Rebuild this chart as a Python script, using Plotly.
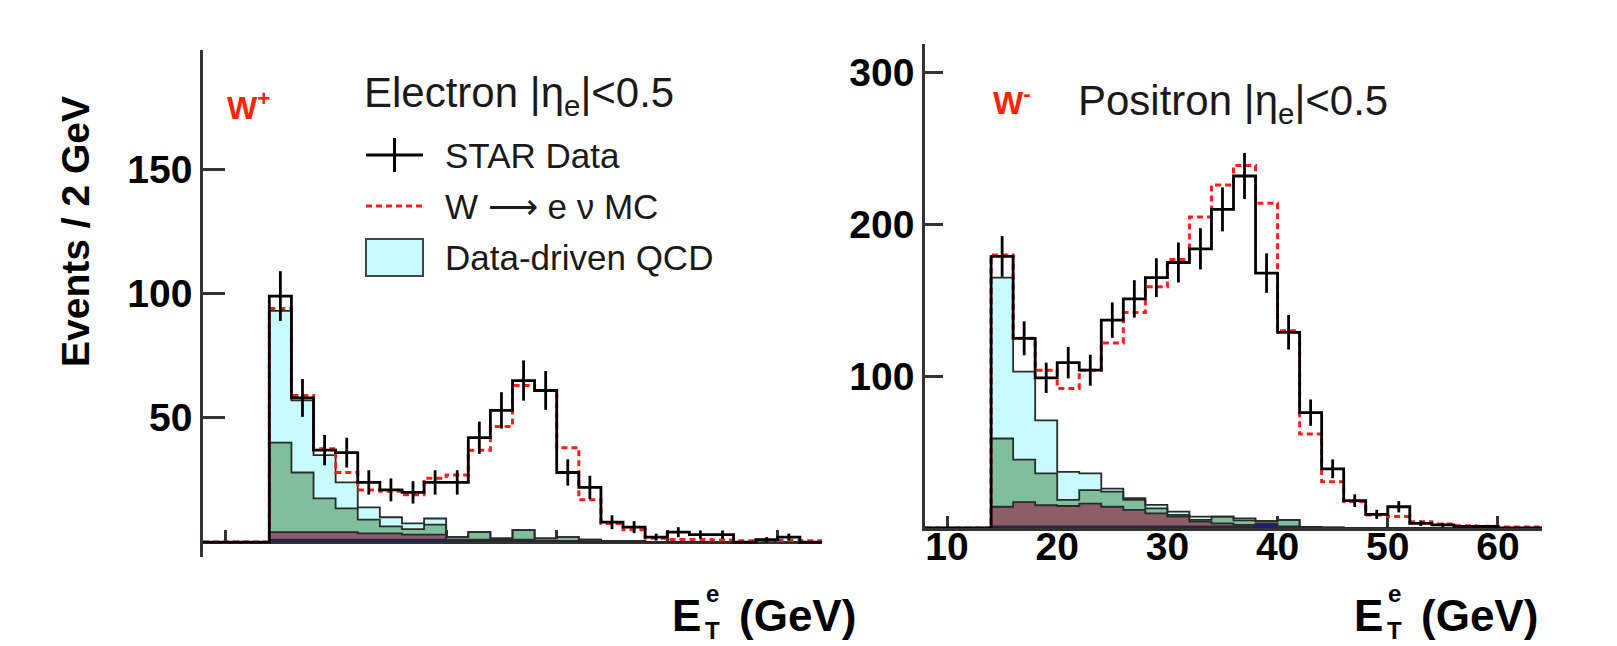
import plotly.graph_objects as go

# ---------------- data (bins of 2 GeV, 8..64 GeV) ----------------
BIN_EDGES = [8, 10, 12, 14, 16, 18, 20, 22, 24, 26, 28, 30, 32, 34, 36, 38,
             40, 42, 44, 46, 48, 50, 52, 54, 56, 58, 60, 62, 64]

# Left panel: W+ (electron)
data_L = [0, 0, 0, 99, 58, 37, 36, 24, 21, 20, 24, 24, 42, 53, 65, 61, 28, 22, 8, 6,
          2, 4, 3, 3, 0, 1, 2, 0]
err_L = [0, 0, 0, 10, 7.6, 6.1, 6, 4.9, 4.6, 4.5, 4.9, 4.9, 6.5, 7.3, 8.1, 7.8, 5.3, 4.7, 2.8, 2.4,
         1.4, 2, 1.7, 1.7, 0, 1, 1.4, 0]
mc_L = [0, 0, 0, 94, 59, 37.6, 28, 21, 20.5, 19, 25.7, 27, 37, 46.5, 63, 61, 38, 17, 7.5, 5,
        1.5, 1, 1, 0.8, 0.5, 0.7, 0.6, 0.5]
navy_L = [0, 0, 0, 1, 1, 1, 1, 1, 1, 1, 1, 0.5, 0.5, 1, 0.5, 0.5, 0.5, 0.3, 0, 0,
          0, 0, 0, 0, 0, 0, 0, 0]
maroon_L = [0, 0, 0, 3, 3, 3, 3, 2.5, 2.5, 2, 2, 0.5, 0.5, 0, 0.5, 0, 0, 0, 0, 0,
            0, 0, 0, 0, 0, 0, 0, 0]
green_L = [0, 0, 0, 36, 24, 13.6, 9.6, 5.5, 2.8, 2.2, 4, 1, 3, 0.5, 3.8, 1, 1.5, 0.7, 0.5, 0.5,
           0, 0, 0, 0, 0, 0, 0, 0]
qcd_L = [0, 0, 0, 53, 29, 17.4, 10.4, 5, 3.7, 2.3, 2.5, 0, 0, 0, 0, 0, 0, 0, 0, 0,
         0, 0, 0, 0, 0, 0, 0, 0]

# Right panel: W- (positron)
data_R = [0, 0, 0, 179, 125, 99, 109, 104, 137, 151, 165, 175, 184, 210, 232, 168, 129, 76, 39, 18,
          9, 14, 3, 2, 1, 1, 0, 0]
err_R = [0, 0, 0, 13.4, 11.2, 10, 10.4, 10.2, 11.7, 12.3, 12.8, 13.2, 13.6, 14.5, 15.2, 13, 11.4, 8.7, 6.2, 4.2,
         3, 3.7, 1.7, 1.4, 1, 1, 0, 0]
mc_R = [0, 0, 0, 180, 125, 104, 92, 104, 122, 142, 159, 177, 205, 226, 239, 214, 130, 62, 30.5, 17.4,
        8.6, 7.5, 4.2, 2.6, 1.5, 1.1, 0.7, 0.7]
navy_R = [0, 0, 0, 1, 1, 1, 1, 1, 1, 1, 1, 1, 1, 1, 1, 3, 1, 0.5, 0.3, 0,
          0, 0, 0, 0, 0, 0, 0, 0]
maroon_R = [0, 0, 0, 13, 16, 14, 13.5, 15, 13, 11, 8.6, 6.5, 3.2, 2, 1, 0, 0, 0, 0, 0,
            0, 0, 0, 0, 0, 0, 0, 0]
green_R = [0, 0, 0, 45, 28, 21, 4, 9, 10, 6.5, 3.4, 1.1, 1.1, 4.5, 3, 1.5, 4.3, 0, 0, 0,
           0, 0, 0, 0, 0, 0, 0, 0]
qcd_R = [0, 0, 0, 106, 58, 35, 18.5, 11, 2, 1.1, 2.2, 2.2, 2.2, 0, 1.4, 0, 0, 0, 0, 0,
         0, 0, 0, 0, 0, 0, 0, 0]

Y_TICKS_L = [50, 100, 150]
Y_TICKS_R = [100, 200, 300]
X_TICKS = [10, 20, 30, 40, 50, 60]

# ---------------- styling ----------------
W, H = 1617, 646
FONT = "Liberation Sans, Arial, Helvetica, sans-serif"
C_QCD = "#c8fcfc"
C_GREEN = "#7fbf9c"
C_MAROON = "#8e5e68"
C_NAVY = "#1c1c82"
C_OUT = "#2a2a2a"
C_RED = "#ff1e1e"


def px(x):
    return x / W


def py(y):
    return 1 - y / H


def step(vals):
    return list(BIN_EDGES), list(vals) + [vals[-1]]


centers = [(BIN_EDGES[i] + BIN_EDGES[i + 1]) / 2 for i in range(len(BIN_EDGES) - 1)]

fig = go.Figure()


def add_panel(xa, ya, grp, navy, maroon, green, qcd, mc, data, err):
    for vals, col in [(navy, C_NAVY), (maroon, C_MAROON), (green, C_GREEN), (qcd, C_QCD)]:
        xs, ys = step(vals)
        fig.add_trace(go.Scatter(x=xs, y=ys, xaxis=xa, yaxis=ya, stackgroup=grp,
                                 mode="lines", line=dict(shape="hv", color=C_OUT, width=1.8),
                                 fillcolor=col, showlegend=False, hoverinfo="skip"))
    xs, ys = step(mc)
    fig.add_trace(go.Scatter(x=xs, y=ys, xaxis=xa, yaxis=ya, mode="lines",
                             line=dict(shape="hv", color=C_RED, width=3, dash="6px,4px"),
                             showlegend=False))
    xs, ys = step(data)
    fig.add_trace(go.Scatter(x=xs, y=ys, xaxis=xa, yaxis=ya, mode="lines",
                             line=dict(shape="hv", color="black", width=2.8),
                             showlegend=False))
    fig.add_trace(go.Scatter(x=centers, y=data, xaxis=xa, yaxis=ya, mode="markers",
                             marker=dict(size=1, color="black"),
                             error_y=dict(type="data", array=err, visible=True,
                                          color="black", thickness=2.8, width=0),
                             showlegend=False))


add_panel("x", "y", "L", navy_L, maroon_L, green_L, qcd_L, mc_L, data_L, err_L)
add_panel("x2", "y2", "R", navy_R, maroon_R, green_R, qcd_R, mc_R, data_R, err_R)

tickfont = dict(family=FONT, size=39, color="black", weight="bold")
axcommon = dict(showgrid=False, zeroline=False, showline=True, linecolor="#333",
                linewidth=2.5, tickcolor="#333", tickwidth=2.5, layer="below traces")

fig.update_layout(
    width=W, height=H, margin=dict(l=0, r=0, t=0, b=0),
    paper_bgcolor="white", plot_bgcolor="white", showlegend=False,
    xaxis=dict(domain=[px(203), px(822)], range=[8, 64], anchor="free", position=py(542),
               tickvals=X_TICKS, ticks="inside", ticklen=11, showticklabels=False, **axcommon),
    yaxis=dict(domain=[py(557), py(50)], range=[-6, 198], anchor="x",
               tickvals=Y_TICKS_L, ticks="inside", ticklen=22, tickfont=tickfont, **axcommon),
    xaxis2=dict(domain=[px(925), px(1542)], range=[8, 64], anchor="y2",
                tickvals=X_TICKS, ticks="inside", ticklen=12, tickfont=tickfont,
                ticklabelstandoff=-18, **axcommon),
    yaxis2=dict(domain=[py(528), py(44)], range=[0, 319], anchor="x2",
                tickvals=Y_TICKS_R, ticks="inside", ticklen=18, tickfont=tickfont, **axcommon),
)

ann = []


def text(x, y, t, size, color="#1a1a1a", xanchor="left", yanchor="middle", angle=0):
    ann.append(dict(x=px(x), y=py(y), xref="paper", yref="paper", text=t, showarrow=False,
                    xanchor=xanchor, yanchor=yanchor, textangle=angle,
                    font=dict(family=FONT, size=size, color=color)))


text(76, 232, "<b>Events / 2 GeV</b>", 39, color="black", xanchor="center", angle=-90)
text(225, 106, "<b>W<sup>+</sup></b>", 32, color="#ff2200")
text(991, 101, "<b>W<sup>-</sup></b>", 32, color="#ff2200")
text(362, 96, "Electron |\u03b7<sub>e</sub>|&lt;0.5", 42)
text(1076, 103, "Positron |\u03b7<sub>e</sub>|&lt;0.5", 42)
text(443, 155, "STAR Data", 35)
text(443, 206, "W \u27f6 e \u03bd MC", 35)
text(443, 258, "Data-driven QCD", 35)

for dx in (0, 682):
    text(858 + dx, 615, "<b>(GeV)</b>", 44, color="black", xanchor="right")
    text(703 + dx, 615, "<b>E</b>", 44, color="black", xanchor="right")
    text(712 + dx, 593, "<b>e</b>", 24, color="black", xanchor="center")
    text(712 + dx, 630, "<b>T</b>", 24, color="black", xanchor="center")

fig.update_layout(annotations=ann)

shapes = [
    dict(type="line", xref="paper", yref="paper", x0=px(366), x1=px(423), y0=py(155), y1=py(155),
         line=dict(color="black", width=3)),
    dict(type="line", xref="paper", yref="paper", x0=px(394.5), x1=px(394.5), y0=py(138), y1=py(172),
         line=dict(color="black", width=3)),
    dict(type="line", xref="paper", yref="paper", x0=px(366), x1=px(423), y0=py(206), y1=py(206),
         line=dict(color=C_RED, width=3, dash="6px,4px")),
    dict(type="rect", xref="paper", yref="paper", x0=px(366), x1=px(423), y0=py(276), y1=py(239),
         fillcolor=C_QCD, line=dict(color="#444", width=2)),
]
fig.update_layout(shapes=shapes)

fig.write_html("out.html", config={"displayModeBar": False},
               post_script="document.body.style.margin='0';document.body.style.overflow='hidden';")
